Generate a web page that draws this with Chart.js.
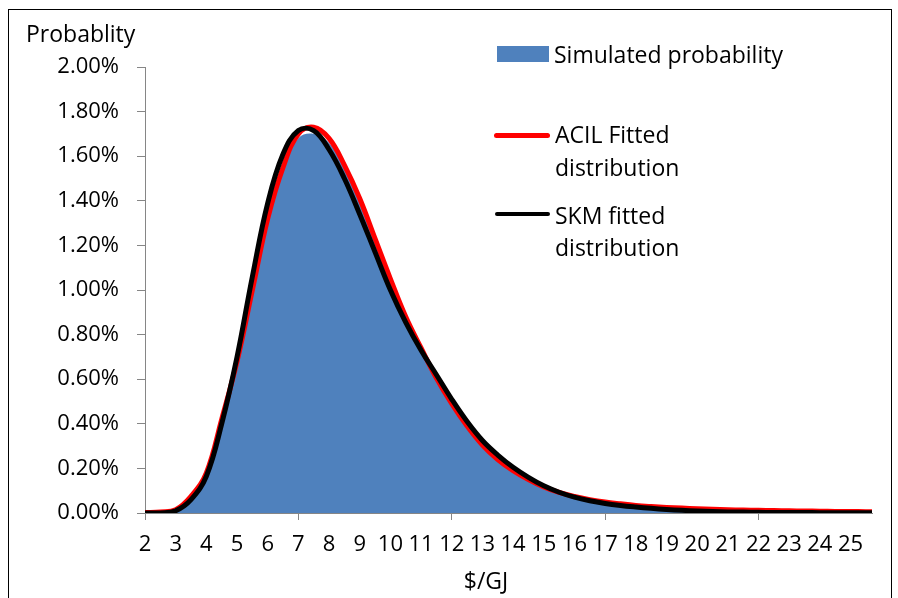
<!DOCTYPE html>
<html>
<head>
<meta charset="utf-8">
<script src="https://cdn.jsdelivr.net/npm/chart.js@4.4.1/dist/chart.umd.min.js"></script>
<style>
  html, body { margin: 0; padding: 0; background: #fff; }
  #wrap { position: relative; width: 898px; height: 598px; overflow: hidden; font-family: 'Open Sans', sans-serif; color: #000; }
  #frame { position: absolute; left: 8px; top: 9px; width: 884px; height: 620px; border: 1px solid #000; box-sizing: border-box; }
  .txt { position: absolute; font-size: 23px; line-height: 1; white-space: nowrap; }
  .leg { position: absolute; font-size: 23px; white-space: nowrap; }
  .mark { position: absolute; }
</style>
</head>
<body>
<div id="wrap">
  <div id="frame"></div>
  <canvas id="chart" width="898" height="598"></canvas>
  <div class="txt" style="left:26px; top:22px;">Probablity</div>
  <div class="txt" style="left:486px; top:569px; transform:translateX(-50%);">$/GJ</div>
  <div class="mark" style="left:497px; top:46px; width:52px; height:16px; background:#4F81BD;"></div>
  <div class="txt" style="left:554px; top:43px;">Simulated probability</div>
  <div class="mark" style="left:494px; top:133px; width:56px; height:5px; border-radius:3px; background:#FF0000;"></div>
  <div class="leg" style="left:555px; top:118px; line-height:33px;">ACIL Fitted<br>distribution</div>
  <div class="mark" style="left:495px; top:212px; width:55px; height:4px; border-radius:2px; background:#000;"></div>
  <div class="leg" style="left:555px; top:199px; line-height:32px;">SKM fitted<br>distribution</div>
</div>
<script>
// price points ($/GJ) and probabilities in percent
const priceX = [2, 2.5, 3, 3.5, 4, 4.5, 5, 5.5, 6, 6.5, 7, 7.5, 8, 8.5, 9, 9.5, 10, 10.5, 11, 11.5,
  12, 12.5, 13, 13.5, 14, 14.5, 15, 15.5, 16, 16.5, 17, 17.5, 18, 18.5, 19, 19.5, 20, 20.5, 21, 21.5,
  22, 22.5, 23, 23.5, 24, 24.5, 25, 25.5, 25.7];

const simulated = [0, 0.003, 0.012, 0.07, 0.17, 0.41, 0.67, 0.99, 1.31, 1.54, 1.68, 1.70, 1.66, 1.55, 1.40, 1.22, 1.04, 0.87, 0.73, 0.60,
  0.48, 0.38, 0.295, 0.235, 0.185, 0.145, 0.113, 0.09, 0.072, 0.059, 0.048, 0.04, 0.033, 0.028, 0.024, 0.02, 0.018, 0.016, 0.014, 0.012,
  0.011, 0.01, 0.009, 0.008, 0.007, 0.006, 0.006, 0.005, 0.005];

const acilFit = [0.002, 0.005, 0.015, 0.075, 0.18, 0.42, 0.68, 1.00, 1.32, 1.55, 1.70, 1.73, 1.68, 1.56, 1.41, 1.23, 1.05, 0.88, 0.74, 0.605,
  0.49, 0.39, 0.305, 0.24, 0.19, 0.15, 0.117, 0.092, 0.074, 0.06, 0.049, 0.041, 0.034, 0.029, 0.025, 0.022, 0.019, 0.017, 0.015, 0.013,
  0.012, 0.011, 0.01, 0.009, 0.008, 0.007, 0.007, 0.006, 0.006];

const skmFit = [0, 0, 0.01, 0.06, 0.165, 0.40, 0.70, 1.06, 1.39, 1.61, 1.715, 1.715, 1.63, 1.50, 1.34, 1.17, 1.00, 0.855, 0.73, 0.62,
  0.51, 0.41, 0.325, 0.26, 0.205, 0.16, 0.122, 0.093, 0.071, 0.055, 0.043, 0.034, 0.027, 0.021, 0.016, 0.012, 0.009, 0.007, 0.005, 0.004,
  0.003, 0.0025, 0.002, 0.002, 0.0015, 0.001, 0.001, 0.001, 0.001];

const majorTicks = [2, 7, 12, 17, 22];

function pts(ys) {
  return priceX.map((x, i) => ({ x: x, y: ys[i] }));
}

const axisGrey = '#868686';
Chart.defaults.font.family = "'Open Sans', sans-serif";
Chart.defaults.font.size = 22;
Chart.defaults.color = '#000';

new Chart(document.getElementById('chart'), {
  type: 'line',
  data: {
    datasets: [
      { label: 'SKM fitted distribution', data: pts(skmFit), borderColor: '#000', borderWidth: 5,
        pointRadius: 0, fill: false, tension: 0.4, order: 0 },
      { label: 'ACIL Fitted distribution', data: pts(acilFit), borderColor: '#FF0000', borderWidth: 5,
        pointRadius: 0, fill: false, tension: 0.4, order: 1 },
      { label: 'Simulated probability', data: pts(simulated), borderWidth: 0, borderColor: 'rgba(0,0,0,0)',
        backgroundColor: '#4F81BD', pointRadius: 0, fill: 'origin', tension: 0.4, order: 2 }
    ]
  },
  options: {
    responsive: false,
    animation: false,
    events: [],
    layout: { padding: { left: 0, right: 26, top: 67, bottom: 0 } },
    plugins: { legend: { display: false }, tooltip: { enabled: false } },
    scales: {
      x: {
        type: 'linear',
        min: 2,
        max: 25.7,
        afterFit: s => { s.height = 85; },
        border: { display: true, color: axisGrey, width: 1 },
        grid: {
          drawOnChartArea: false,
          tickLength: 7,
          color: ctx => (ctx.tick && majorTicks.includes(ctx.tick.value)) ? axisGrey : 'rgba(0,0,0,0)'
        },
        ticks: { stepSize: 1, includeBounds: false, autoSkip: false, maxRotation: 0, padding: 12 }
      },
      y: {
        min: 0,
        max: 2,
        afterFit: s => { s.width = 145; },
        border: { display: true, color: axisGrey, width: 1 },
        grid: { drawOnChartArea: false, tickLength: 8, color: axisGrey },
        ticks: { stepSize: 0.2, padding: 18, callback: v => v.toFixed(2) + '%' }
      }
    }
  }
});
</script>
</body>
</html>
